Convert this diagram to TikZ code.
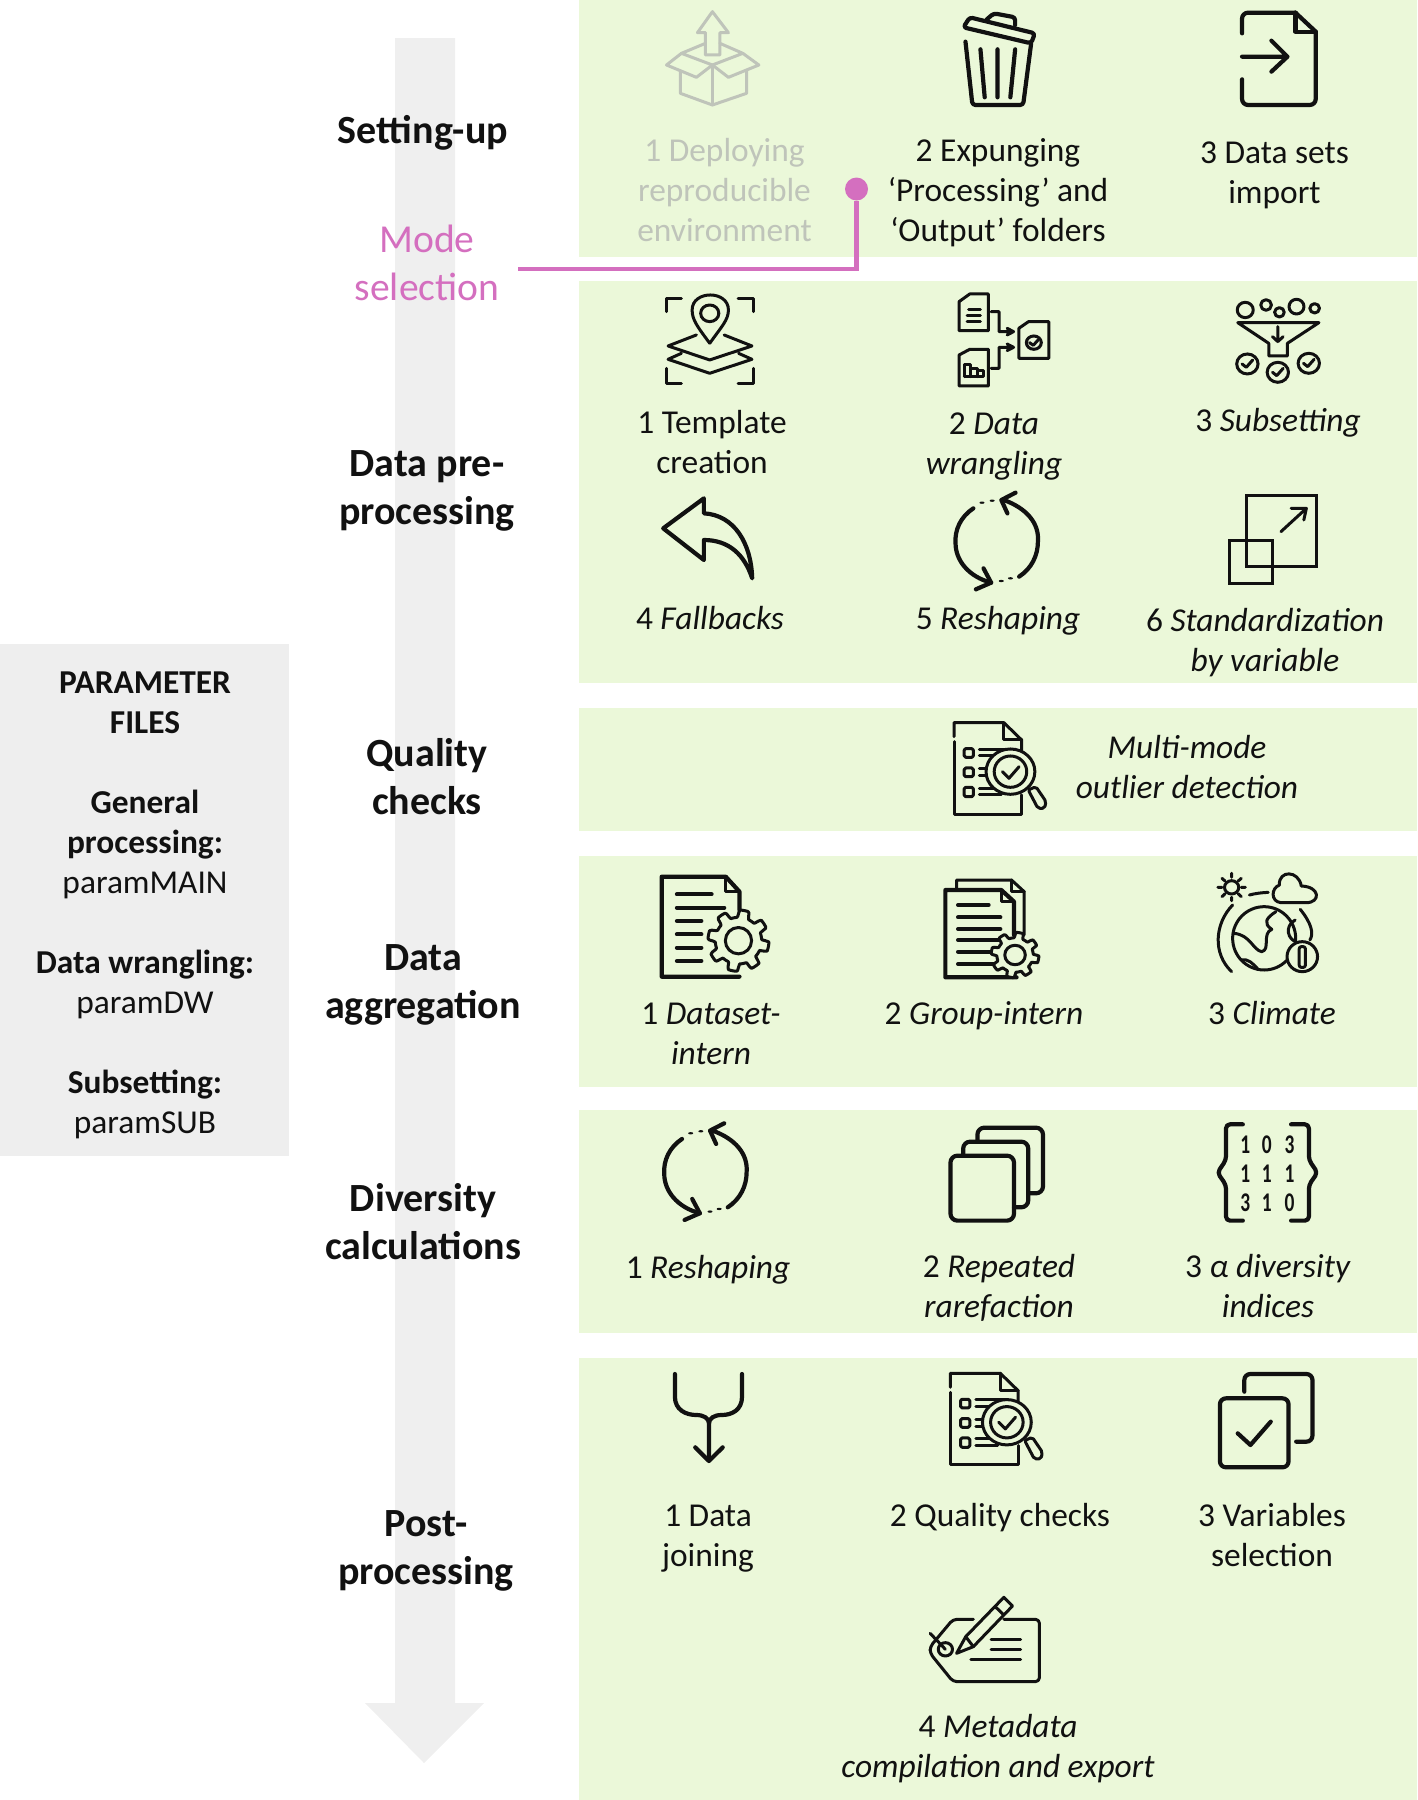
\documentclass[tikz,border=0pt]{standalone}
\usepackage{fontspec}
\setmainfont{Carlito}
\definecolor{panelgreen}{HTML}{EBF8D9}
\definecolor{sidegrey}{HTML}{EEEEEE}
\definecolor{arrowgrey}{HTML}{EFEFEF}
\definecolor{modepink}{HTML}{D46FBF}
\definecolor{fadegrey}{HTML}{BFC4BA}
\definecolor{inkdark}{HTML}{111111}
\tikzset{
  panel/.style={fill=panelgreen,draw=none},
  label/.style={font=\fontsize{33.4}{40.2}\selectfont,align=center,inner sep=0pt,text height=20pt,text depth=0pt,text=inkdark,yshift=-1.5pt},
  faded/.style={label,text=fadegrey},
  heading/.style={font=\fontsize{40}{48.2}\selectfont\bfseries,align=center,inner sep=0pt,text height=24pt,text depth=0pt,text=inkdark,yshift=-1.2pt},
  modehead/.style={heading,font=\fontsize{39.6}{48.2}\selectfont,text=modepink},
  icon/.style={draw=inkdark,line width=4.2pt,line join=round,line cap=round},
  thin icon/.style={icon,line width=3pt},
  fade icon/.style={draw=fadegrey,line width=3pt,line join=round,line cap=round},
  zoomA/.style={shift={(580,0)},x=0.5339pt,y=-0.3333pt},
  zoomB/.style={shift={(620,480)},x=0.5084pt,y=-0.3333pt},
  zoomC/.style={shift={(620,860)},x=0.5084pt,y=-0.3333pt},
  zoomD/.style={shift={(620,1360)},x=0.5084pt,y=-0.3333pt},
  digit/.style={font=\fontsize{27}{30}\selectfont\bfseries,inner sep=0pt,text=inkdark},
}
\newcommand\dgt[1]{\scalebox{.72}[1]{#1}}
\newcommand\geargear[4]{%
  \draw[thin icon,fill=panelgreen] plot[domain=0:358,samples=145]
   ({#1+#3*(0.76+0.24*max(0,min(1,1.6*sin(8*\x)+.5)))*cos(\x)},
    {#2+#4*(0.76+0.24*max(0,min(1,1.6*sin(8*\x)+.5)))*sin(\x)}) -- cycle;
  \draw[thin icon] (#1,#2) ellipse [x radius=#3*0.43,y radius=#4*0.43];
}
\newcommand\reshapeicon{%
  \draw[icon] (755,60) .. controls (800,85) and (825,130) .. (822,185) .. controls (822,225) and (810,265) .. (785,290);
  \draw[icon] (778,38) -- (750,60) -- (762,100);
  \draw[icon] (695,85) .. controls (670,110) and (658,150) .. (660,190) .. controls (660,240) and (685,290) .. (730,308);
  \draw[icon] (700,328) -- (730,308) -- (715,265);
  \fill[inkdark] (712,68) ellipse [x radius=5,y radius=3.5] (732,62) ellipse [x radius=5,y radius=3.5] (750,303) ellipse [x radius=5,y radius=3.5] (768,295) ellipse [x radius=5,y radius=3.5];
}
\newcommand\qualityicon{%
  \draw[thin icon] (657,770) -- (657,728) -- (755,728) -- (790,780) -- (790,830);
  \draw[thin icon] (755,728) -- (755,780) -- (790,780);
  \draw[thin icon] (657,785) -- (657,1003) -- (790,1003) -- (790,945);
  \draw[thin icon,rounded corners=1.5pt] (677,806) rectangle (695,832) (677,864) rectangle (695,890) (677,922) rectangle (695,950);
  \draw[thin icon] (707,808) -- (770,808) (707,828) -- (740,828) (707,866) -- (730,866) (707,888) -- (725,888) (707,925) -- (750,925) (707,945) -- (750,945);
  \draw[thin icon,fill=panelgreen] (768,875) ellipse [x radius=48,y radius=68];
  \draw[thin icon] (768,875) ellipse [x radius=32,y radius=47];
  \draw[thin icon] (752,875) -- (765,895) -- (785,860);
  \draw[thin icon,rounded corners=2pt] (803,930) -- (818,920) -- (838,965) -- (835,985) -- (822,985) -- cycle;
}
\begin{document}
\begin{tikzpicture}[x=1pt,y=-1pt]
\useasboundingbox (0,0) rectangle (1417,1800);
% backgrounds
\fill[panel] (579,0) rectangle (1417,257);
\fill[panel] (579,281) rectangle (1417,683);
\fill[panel] (579,708) rectangle (1417,831);
\fill[panel] (579,856) rectangle (1417,1087);
\fill[panel] (579,1110) rectangle (1417,1333);
\fill[panel] (579,1358) rectangle (1417,1800);
\fill[sidegrey] (0,644) rectangle (289,1156);
\fill[arrowgrey] (395,38) -- (455,38) -- (455,1703) -- (484,1703) -- (424,1763) -- (365,1703) -- (395,1703) -- cycle;
% stage headings
\node[heading] (setup) at (423,130) {Setting-up};
\node[modehead] (mode) at (427,287) {Mode\\selection};
\node[heading] (pre) at (427,511) {Data pre-\\processing};
\node[heading] (qc) at (427,801) {Quality\\checks};
\node[heading] (agg) at (423,1005) {Data\\aggregation};
\node[heading] (div) at (423,1246) {Diversity\\calculations};
\node[heading] (post) at (426,1571) {Post-\\processing};
% mode connector
\node[circle,fill=modepink,inner sep=0pt,minimum size=23pt] (modedot) at (856.5,189) {};
\coordinate (modestart) at (518,269);
\draw[modepink,line width=4.6pt] (modestart) -| (modedot);
% parameter box
\node[label] (param) at (145,1122) {\textbf{PARAMETER}\\\textbf{FILES}\\[39.6pt]\textbf{General}\\\textbf{processing:}\\paramMAIN\\[39.6pt]\textbf{Data wrangling:}\\paramDW\\[39.6pt]\textbf{Subsetting:}\\paramSUB};
% labels
\node[faded] (a1) at (724.5,230) {1 Deploying\\reproducible\\environment};
\node[label] (a2) at (998,230) {2 Expunging\\‘Processing’ and\\‘Output’ folders};
\node[label] (a3) at (1274.5,192) {3 Data sets\\import};
\node[label] (b1) at (712,462) {1 Template\\creation};
\node[label] (b2) at (994,463) {2 \textit{Data}\\\textit{wrangling}};
\node[label] (b3) at (1278,420) {3 \textit{Subsetting}};
\node[label] (b4) at (710,618) {4 \textit{Fallbacks}};
\node[label] (b5) at (998,618) {5 \textit{Reshaping}};
\node[label] (b6) at (1265,660) {6 \textit{Standardization}\\\textit{by variable}};
\node[label] (c1) at (1187,787) {\textit{Multi-mode}\\\textit{outlier detection}};
\node[label] (d1) at (711,1053) {1 \textit{Dataset-}\\\textit{intern}};
\node[label] (d2) at (984,1013) {2 \textit{Group-intern}};
\node[label] (d3) at (1272,1013) {3 \textit{Climate}};
\node[label] (e1) at (708,1267) {1 \textit{Reshaping}};
\node[label] (e2) at (999,1306) {2 \textit{Repeated}\\\textit{rarefaction}};
\node[label] (e3) at (1268,1306) {3 \textit{α diversity}\\\textit{indices}};
\node[label] (f1) at (708,1555) {1 Data\\joining};
\node[label] (f2) at (1000,1515) {2 Quality checks};
\node[label] (f3) at (1272,1555) {3 Variables\\selection};
\node[label] (f4) at (998,1766) {4 \textit{Metadata}\\\textit{compilation and export}};
% icons: first band and template row
\begin{scope}[zoomA]
  \draw[fade icon] (248,35) -- (278,98) -- (262,98) -- (262,165) -- (235,165) -- (235,98) -- (220,98) -- cycle;
  \draw[fade icon] (235,130) -- (190,160) -- (248,195) -- (305,160) -- (262,130);
  \draw[fade icon] (190,160) -- (162,195) -- (218,232) -- (248,195) -- (278,232) -- (335,195) -- (305,160);
  \draw[fade icon] (188,212) -- (188,280) -- (248,315) -- (312,280) -- (312,212);
  \draw[fade icon] (248,195) -- (248,315);
  \draw[icon,rounded corners=3pt] (730,52) -- (852,100) -- (845,130) -- (718,82) -- cycle;
  \draw[icon,rounded corners=3pt] (762,58) -- (775,40) -- (815,52) -- (815,75);
  \draw[icon,rounded corners=3pt] (722,125) -- (735,315) -- (830,315) -- (845,130);
  \draw[icon] (750,148) -- (758,292) (782,148) -- (782,292) (815,148) -- (806,292);
  \draw[icon,rounded corners=6pt] (1240,100) -- (1240,38) -- (1340,38);
  \draw[icon] (1340,38) -- (1378,95);
  \draw[icon,rounded corners=6pt] (1378,95) -- (1378,315) -- (1240,315) -- (1240,238);
  \draw[icon] (1340,38) -- (1340,95) -- (1378,95);
  \draw[icon] (1240,170) -- (1325,170) (1295,122) -- (1325,170) -- (1295,215);
  % template
  \draw[thin icon] (162,935) -- (162,895) -- (190,895) (296,895) -- (325,895) -- (325,935) (162,1105) -- (162,1150) -- (190,1150) (296,1150) -- (325,1150) -- (325,1105);
  \draw[thin icon] (243,1030) .. controls (220,980) and (210,960) .. (210,930) .. controls (210,870) and (278,870) .. (278,930) .. controls (278,960) and (265,980) .. (243,1030);
  \draw[thin icon] (243,940) ellipse [x radius=17,y radius=25];
  \draw[thin icon] (218,1005) -- (165,1038) -- (243,1080) -- (322,1038) -- (270,1005);
  \draw[thin icon] (190,1060) -- (165,1078) -- (243,1120) -- (322,1078) -- (297,1060);
  % wrangling
  \draw[thin icon] (710,905) -- (730,882) -- (765,882) -- (765,992) -- (710,992) -- cycle;
  \draw[thin icon] (728,930) -- (750,930) (725,948) -- (750,948) (725,965) -- (750,965);
  \draw[thin icon] (822,985) -- (840,965) -- (878,965) -- (878,1075) -- (822,1075) -- cycle;
  \draw[thin icon] (850,1028) ellipse [x radius=14,y radius=20];
  \draw[thin icon] (842,1028) -- (849,1036) -- (858,1020);
  \draw[thin icon] (710,1065) -- (730,1048) -- (765,1048) -- (765,1158) -- (710,1158) -- cycle;
  \draw[thin icon] (720,1130) -- (720,1095) -- (732,1095) -- (732,1130) (732,1105) -- (745,1105) -- (745,1130) (745,1112) -- (755,1112) -- (755,1130) -- (720,1130);
  \draw[thin icon] (770,935) -- (785,935) -- (785,995) -- (805,995) (800,985) -- (812,995) -- (800,1005);
  \draw[thin icon] (770,1105) -- (785,1105) -- (785,1042) -- (805,1042) (800,1032) -- (812,1042) -- (800,1052);
  % funnel
  \draw[thin icon] (1246,930) ellipse [x radius=15,y radius=23] (1285,915) ellipse [x radius=10,y radius=16] (1310,937) ellipse [x radius=9,y radius=14] (1342,920) ellipse [x radius=14,y radius=22] (1376,925) ellipse [x radius=9,y radius=14];
  \draw[thin icon] (1232,968) -- (1384,968) -- (1325,1030) -- (1325,1068) -- (1290,1068) -- (1290,1030) -- cycle;
  \draw[thin icon] (1307,980) -- (1307,1025) (1297,1010) -- (1307,1025) -- (1317,1010);
  \draw[thin icon] (1250,1092) ellipse [x radius=20,y radius=30] (1307,1117) ellipse [x radius=20,y radius=30] (1365,1090) ellipse [x radius=20,y radius=30];
  \draw[thin icon] (1240,1092) -- (1248,1102) -- (1260,1080) (1297,1117) -- (1305,1127) -- (1317,1105) (1355,1090) -- (1363,1100) -- (1375,1078);
\end{scope}
\begin{scope}[zoomB]
  \draw[icon] (165,55) -- (85,145) -- (165,240) -- (165,180) .. controls (215,180) and (245,225) .. (260,295) .. controls (258,190) and (225,105) .. (165,100) -- cycle;
  \reshapeicon
  \draw[thin icon,line join=miter] (1232,47) rectangle (1370,260);
  \draw[thin icon,line join=miter] (1198,180) rectangle (1284,310);
  \draw[thin icon] (1300,155) -- (1350,85) (1320,85) -- (1350,85) -- (1345,120);
  \qualityicon
\end{scope}
\begin{scope}[zoomC]
  \draw[icon] (235,150) -- (235,95) -- (208,50) -- (82,50) -- (82,350) -- (235,350);
  \draw[thin icon] (208,50) -- (208,95) -- (235,95);
  \draw[icon] (112,103) -- (180,103) (112,143) -- (205,143) (112,183) -- (160,183) (112,223) -- (160,223) (112,263) -- (160,263) (112,303) -- (160,303);
  \geargear{233}{242}{60}{92}
  \draw[thin icon] (662,90) -- (662,60) -- (770,60) -- (795,95) -- (795,225);
  \draw[thin icon] (770,60) -- (770,95) -- (795,95);
  \draw[icon] (775,225) -- (775,125) -- (750,90) -- (640,90) -- (640,352) -- (780,352);
  \draw[thin icon] (750,90) -- (750,125) -- (775,125);
  \draw[icon] (665,135) -- (725,135) (665,172) -- (748,172) (665,207) -- (748,207) (665,240) -- (748,240) (665,275) -- (735,275) (665,312) -- (735,312);
  \geargear{777}{285}{47}{68}
  % climate
  \draw[thin icon] (1203,82) ellipse [x radius=14,y radius=20];
  \draw[thin icon] (1203,40) -- (1203,52) (1203,112) -- (1203,122) (1176,82) -- (1184,82) (1222,82) -- (1230,82) (1184,55) -- (1190,63) (1216,101) -- (1222,110) (1184,110) -- (1190,101) (1216,63) -- (1222,55);
  \draw[thin icon] (1238,105) .. controls (1250,100) and (1262,98) .. (1275,97);
  \draw[thin icon] (1300,128) -- (1350,128) .. controls (1378,128) and (1378,80) .. (1340,78) .. controls (1335,30) and (1295,30) .. (1297,75) .. controls (1280,85) and (1280,125) .. (1300,128);
  \draw[thin icon] (1205,135) .. controls (1170,190) and (1165,280) .. (1203,335);
  \draw[thin icon] (1338,148) .. controls (1360,190) and (1365,220) .. (1357,240);
  \draw[thin icon] (1267,235) ellipse [x radius=62,y radius=95];
  \draw[thin icon] (1290,155) .. controls (1270,175) and (1265,190) .. (1282,208) .. controls (1262,220) and (1280,270) .. (1262,275) .. controls (1245,270) and (1240,225) .. (1208,220);
  \draw[thin icon] (1222,300) .. controls (1235,295) and (1245,310) .. (1255,328);
  \draw[thin icon] (1328,180) .. controls (1305,200) and (1315,240) .. (1330,245);
  \draw[thin icon,fill=panelgreen] (1342,290) ellipse [x radius=30,y radius=45];
  \draw[thin icon,rounded corners=2pt] (1336,260) rectangle (1348,322);
  % stacked pages
  \draw[icon,rounded corners=7pt] (703,845) -- (703,803) -- (832,803) -- (832,1000) -- (805,1000);
  \draw[icon,rounded corners=7pt] (675,885) -- (675,845) -- (803,845) -- (803,1042) -- (775,1042);
  \draw[icon,rounded corners=7pt] (650,887) rectangle (775,1082);
  % matrix
  \draw[icon,rounded corners=4pt] (1225,793) -- (1192,793) -- (1192,900) -- (1175,938) -- (1192,975) -- (1192,1082) -- (1225,1082);
  \draw[icon,rounded corners=4pt] (1320,793) -- (1355,793) -- (1355,900) -- (1372,938) -- (1355,975) -- (1355,1082) -- (1320,1082);
  \node[digit] (m11) at (1230,855) {\dgt{1}};
  \node[digit] (m12) at (1272,855) {\dgt{0}};
  \node[digit] (m13) at (1317,855) {\dgt{3}};
  \node[digit] (m21) at (1230,940) {\dgt{1}};
  \node[digit] (m22) at (1272,940) {\dgt{1}};
  \node[digit] (m23) at (1317,940) {\dgt{1}};
  \node[digit] (m31) at (1230,1028) {\dgt{3}};
  \node[digit] (m32) at (1272,1028) {\dgt{1}};
  \node[digit] (m33) at (1317,1028) {\dgt{0}};
\end{scope}
\begin{scope}[shift={(328.7,1110.6)},x=0.5084pt,y=-0.3333pt]
  \reshapeicon
\end{scope}
\begin{scope}[zoomD]
  \draw[icon] (108,42) -- (108,110) .. controls (108,150) and (130,165) .. (150,165) .. controls (165,165) and (175,175) .. (175,190) -- (175,300);
  \draw[icon] (240,42) -- (240,110) .. controls (240,150) and (220,165) .. (200,165) .. controls (185,165) and (175,175) .. (175,190);
  \draw[icon] (148,262) -- (175,303) -- (202,262);
  \draw[icon,rounded corners=6pt] (1180,115) rectangle (1315,322);
  \draw[icon,rounded corners=6pt] (1228,95) -- (1228,42) -- (1362,42) -- (1362,245) -- (1330,245);
  \draw[icon] (1215,220) -- (1240,255) -- (1280,185);
  % metadata tag
  \draw[thin icon,rounded corners=4pt] (695,778) -- (655,778) -- (610,860) -- (610,880) -- (655,965) -- (825,965) -- (825,778) -- (755,778);
  \draw[thin icon] (640,868) ellipse [x radius=14,y radius=20];
  \draw[thin icon] (610,820) -- (640,868);
  \draw[thin icon,fill=panelgreen] (662,880) -- (680,830) -- (755,712) -- (772,738) -- (695,860) -- cycle;
  \draw[thin icon] (680,830) -- (695,860) (738,740) -- (755,765);
  \draw[thin icon] (730,840) -- (788,840) (730,870) -- (788,870) (690,900) -- (788,900);
\end{scope}
\begin{scope}[shift={(616.4,1130.6)},x=0.5084pt,y=-0.3333pt]
  \qualityicon
\end{scope}
\end{tikzpicture}
\end{document}
